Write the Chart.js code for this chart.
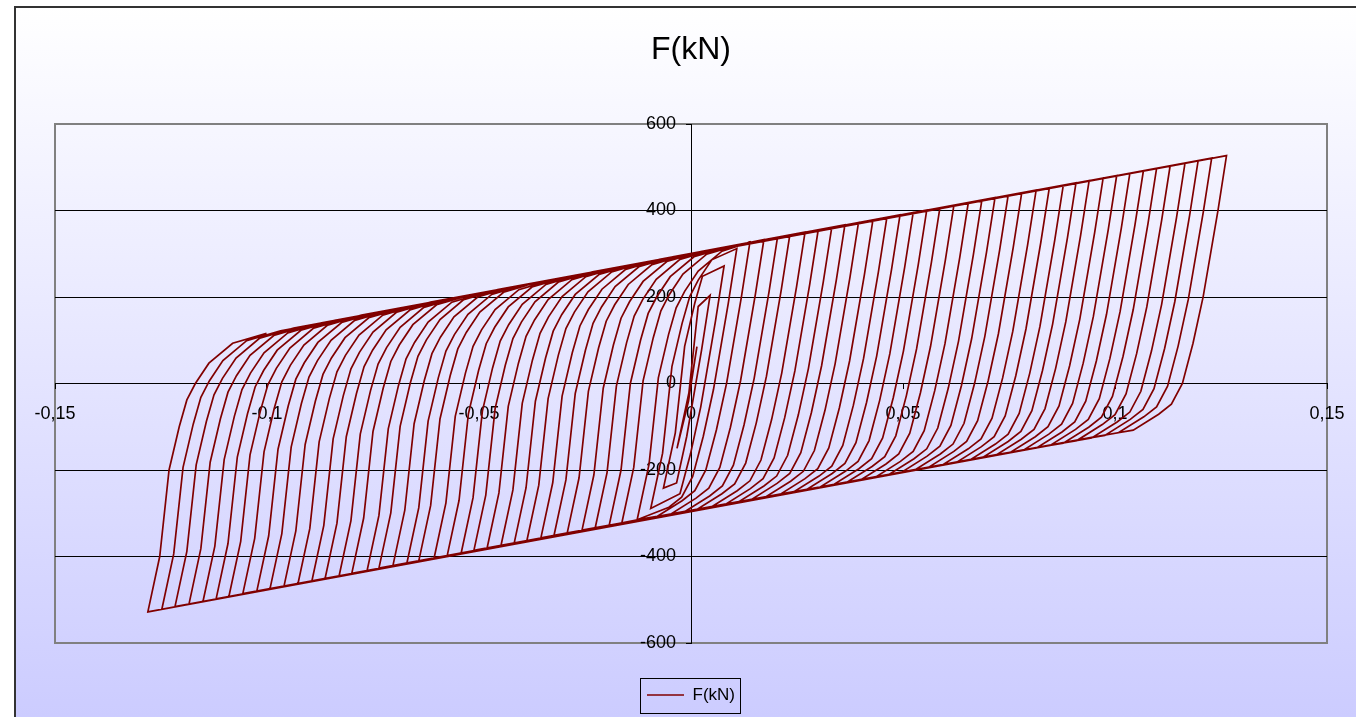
<!DOCTYPE html>
<html>
<head>
<meta charset="utf-8">
<title>F(kN)</title>
<script src="https://cdn.jsdelivr.net/npm/chart.js@4.4.1/dist/chart.umd.min.js"></script>
<style>
    html, body { margin: 0; padding: 0; background: #ffffff; }
    #wrap { width: 1356px; height: 717px; }
</style>
</head>
<body>
<div id="wrap"><canvas id="hysteresis" width="1356" height="717"></canvas></div>
<script>
const seriesName = 'F(kN)';

// Turning points of the cyclic test, in loading order (displacement, force kN)
const posPeakX = [0.0014, 0.0045, 0.0078,
    0.0108, 0.0139, 0.0172, 0.0204, 0.0233, 0.0269, 0.0300, 0.0332, 0.0363, 0.0395,
    0.0429, 0.0462, 0.0493, 0.0524, 0.0556, 0.0587, 0.0620, 0.0654, 0.0686, 0.0717,
    0.0748, 0.0780, 0.0814, 0.0845, 0.0878, 0.0908, 0.0939, 0.0972, 0.1004, 0.1035,
    0.1067, 0.1098, 0.1130, 0.1165, 0.1196, 0.1228, 0.1263];
const posPeakF = [85, 204, 272,
    312, 327, 333, 338, 343, 350, 355, 361, 367, 372,
    378, 384, 390, 395, 401, 406, 412, 418, 424, 430,
    435, 441, 447, 452, 458, 464, 469, 475, 481, 486,
    492, 497, 503, 509, 515, 521, 527];
const negPeakX = [-0.0033, -0.0065, -0.0095,
    -0.0127, -0.0163, -0.0193, -0.0226, -0.0257, -0.0292, -0.0323, -0.0354, -0.0387, -0.0417,
    -0.0448, -0.0481, -0.0512, -0.0542, -0.0575, -0.0606, -0.0642, -0.0670, -0.0703, -0.0736,
    -0.0764, -0.0800, -0.0830, -0.0863, -0.0894, -0.0927, -0.0960, -0.0993, -0.1024, -0.1057,
    -0.1090, -0.1120, -0.1151, -0.1184, -0.1217, -0.1248, -0.1281];
const negPeakF = [-150, -242, -289,
    -315, -322, -328, -334, -339, -346, -351, -357, -363, -369,
    -374, -381, -386, -392, -398, -404, -410, -415, -421, -427,
    -433, -439, -445, -451, -456, -463, -469, -475, -480, -486,
    -493, -498, -504, -510, -516, -522, -528];

// Shape of a branch right after a reversal: [dx, dF] from the turning point
const unloadShape = [[-0.0020, -126], [-0.0055, -326], [-0.0079, -434], [-0.0104, -527],
    [-0.0130, -575], [-0.0160, -598], [-0.0220, -635], [-0.0280, -645]];
const reloadShape = [[0.0028, 128], [0.0050, 328], [0.0074, 428], [0.0092, 490],
    [0.0112, 528], [0.0144, 575], [0.0200, 621], [0.0280, 644]];

const xTicks = [-0.15, -0.1, -0.05, 0, 0.05, 0.1, 0.15];
const xTickLabels = ['-0,15', '-0,1', '-0,05', '0', '0,05', '0,1', '0,15'];
const yTicks = [-600, -400, -200, 0, 200, 400, 600];
const yTickLabels = ['-600', '-400', '-200', '0', '200', '400', '600'];

const FONT = '"Liberation Sans", Arial, sans-serif';
// labels of a centred y axis sit flush on the axis line, so keep a small gap
const Y_LABEL_GAP = '   ';

// points of one branch leaving `from`; stops before it runs past `to`
function branch(from, to, shape, dir) {
    const pts = [];
    for (const [dx, dF] of shape) {
        const x = from.x + dx;
        const y = from.y + dF;
        if (to) {
            const past = dir < 0
                ? (x <= to.x + 0.0015 || y <= to.y + 10)
                : (x >= to.x - 0.0015 || y >= to.y - 10);
            if (past) break;
        }
        pts.push({ x, y });
    }
    return pts;
}

function buildPath() {
    const path = [{ x: 0, y: 0 }];
    for (let i = 0; i < posPeakX.length; i++) {
        const pos = { x: posPeakX[i], y: posPeakF[i] };
        const neg = { x: negPeakX[i], y: negPeakF[i] };
        const next = i + 1 < posPeakX.length ? { x: posPeakX[i + 1], y: posPeakF[i + 1] } : null;
        path.push(pos);
        path.push(...branch(pos, neg, unloadShape, -1));
        path.push(neg);
        path.push(...branch(neg, next, reloadShape, 1));
    }
    return path;
}

// gradient backdrop, outer frame, plot border and the boxed legend
const framePlugin = {
    id: 'frame',
    beforeDraw(chart) {
        const { ctx, width, height, chartArea: a } = chart;
        ctx.save();
        ctx.fillStyle = '#ffffff';
        ctx.fillRect(0, 0, width, height);
        const g = ctx.createLinearGradient(0, 6, 0, height);
        g.addColorStop(0, '#ffffff');
        g.addColorStop(1, '#ccccff');
        ctx.fillStyle = g;
        ctx.fillRect(14, 6, width - 14, height - 6);
        ctx.strokeStyle = '#333333';
        ctx.lineWidth = 2;
        ctx.beginPath();
        ctx.moveTo(15, height);
        ctx.lineTo(15, 7);
        ctx.lineTo(width, 7);
        ctx.stroke();
        ctx.strokeStyle = '#808080';
        ctx.lineWidth = 2;
        ctx.strokeRect(a.left, a.top, a.width, a.height);
        ctx.restore();
    },
    afterDraw(chart) {
        const box = chart.legend && chart.legend.legendHitBoxes[0];
        if (!box) return;
        const { ctx } = chart;
        const cy = box.top + box.height / 2;
        ctx.save();
        ctx.strokeStyle = '#000000';
        ctx.lineWidth = 1;
        ctx.strokeRect(Math.round(box.left - 7) + 0.5, Math.round(cy - 17) + 0.5,
            Math.round(box.width + 12), 35);
        ctx.restore();
    }
};

new Chart(document.getElementById('hysteresis'), {
    type: 'scatter',
    data: {
        datasets: [{
            label: seriesName,
            data: buildPath(),
            showLine: true,
            borderColor: '#800000',
            backgroundColor: '#800000',
            borderWidth: 1.7,
            pointRadius: 0,
            pointHoverRadius: 0,
            tension: 0
        }]
    },
    options: {
        responsive: false,
        animation: false,
        layout: { padding: { top: 0, left: 55, right: 29, bottom: 3.5 } },
        plugins: {
            title: {
                display: true,
                text: seriesName,
                color: '#000000',
                font: { family: FONT, size: 32, weight: 'normal' },
                padding: { top: 31, bottom: 54.6 }
            },
            legend: {
                position: 'bottom',
                labels: {
                    usePointStyle: true,
                    pointStyle: 'line',
                    pointStyleWidth: 37,
                    boxHeight: 15,
                    padding: 43.5,
                    color: '#000000',
                    font: { family: FONT, size: 17 }
                }
            },
            tooltip: { enabled: false }
        },
        scales: {
            x: {
                type: 'linear',
                position: { y: 0 },
                min: -0.15,
                max: 0.15,
                afterBuildTicks: s => { s.ticks = xTicks.map(v => ({ value: v })); },
                ticks: {
                    callback: (v, i) => xTickLabels[i],
                    color: '#000000',
                    font: { family: FONT, size: 18, lineHeight: 2.5 },
                    maxRotation: 0,
                    autoSkip: false
                },
                grid: { drawOnChartArea: false, drawTicks: true, tickLength: 5, color: '#000000' },
                border: { color: '#000000', width: 1 }
            },
            y: {
                type: 'linear',
                position: { x: 0 },
                min: -600,
                max: 600,
                afterBuildTicks: s => { s.ticks = yTicks.map(v => ({ value: v })); },
                ticks: {
                    callback: (v, i) => yTickLabels[i] + Y_LABEL_GAP,
                    color: '#000000',
                    font: { family: FONT, size: 18 },
                    autoSkip: false
                },
                grid: {
                    color: c => (c.tick && Math.abs(c.tick.value) === 600) ? 'rgba(0,0,0,0)' : '#000000',
                    tickColor: '#000000',
                    tickLength: 5,
                    lineWidth: 1
                },
                border: { color: '#000000', width: 1 }
            }
        }
    },
    plugins: [framePlugin]
});
</script>
</body>
</html>
